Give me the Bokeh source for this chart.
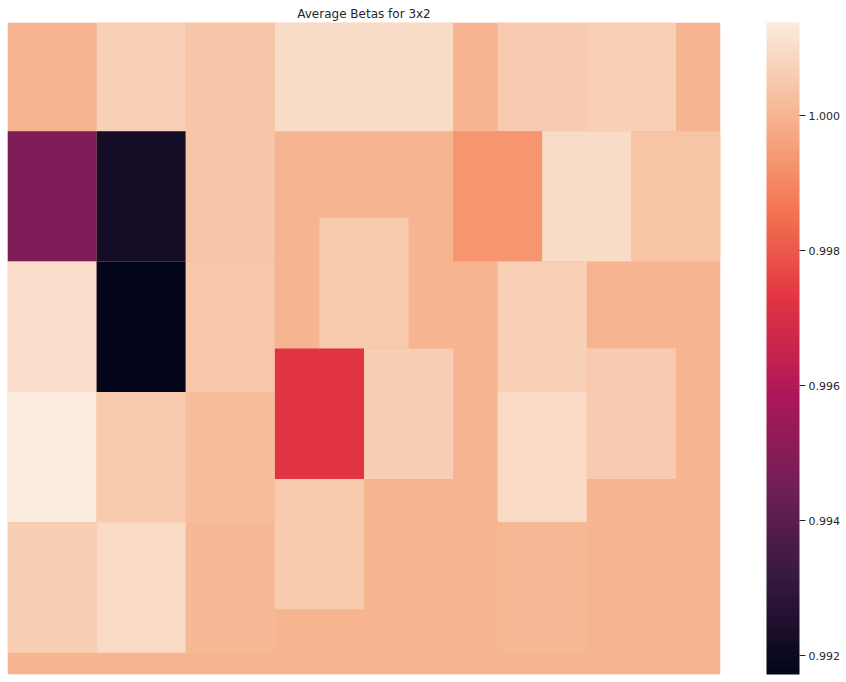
import numpy as np
from bokeh.plotting import figure
from bokeh.models import (LinearColorMapper, ColorBar, FixedTicker, PrintfTickFormatter,
                          Range1d, ColumnDataSource)
from bokeh.embed import file_html
from bokeh.resources import INLINE

# ---------------- data ----------------
title_text = "Average Betas for 3x2"
n_rows = 30          # half-row grid
n_cols = 16
background_beta = 1.0
beta_min = 0.99172
beta_max = 1.00138
colorbar_ticks = [0.992, 0.994, 0.996, 0.998, 1.000]

# 3x2 blocks: grid index ranges and average beta
block_row_start = [5, 11, 17, 23, 0, 5, 11, 17, 23, 0, 5, 11, 17, 23,
                   0, 0, 0, 0, 9, 5, 5, 5, 11, 17, 15, 15, 15, 21, 23]
block_row_end   = [11, 17, 23, 29, 5, 11, 17, 23, 29, 5, 11, 17, 23, 29,
                   5, 5, 5, 5, 15, 11, 11, 11, 17, 23, 21, 21, 21, 27, 29]
block_col_start = [0, 0, 0, 0, 2, 2, 2, 2, 2, 4, 4, 4, 4, 4,
                   6, 8, 11, 13, 7, 10, 12, 14, 11, 11, 6, 8, 13, 6, 11]
block_col_end   = [2, 2, 2, 2, 4, 4, 4, 4, 4, 6, 6, 6, 6, 6,
                   8, 10, 13, 15, 9, 12, 14, 16, 13, 13, 8, 10, 15, 8, 13]
block_beta      = [0.99482, 1.00103, 1.00138, 1.00063,
                   1.00068, 0.99224, 0.99172, 1.00053, 1.00095,
                   1.00043, 1.00043, 1.00044, 1.00022, 1.00012,
                   1.00097, 1.00100, 1.00058, 1.00068,
                   1.00053, 0.99931, 1.00097, 1.00038,
                   1.00068, 1.00095,
                   0.99725, 1.00063, 1.00055,
                   1.00053, 1.00006]

# rocket colormap anchors
rocket_pos = [0.0, 1/7, 2/7, 3/7, 4/7, 5/7, 6/7, 1.0]
rocket_hex = ["#03051a", "#35193e", "#701f57", "#ad1759",
              "#e13342", "#f37651", "#f6b48f", "#faebdd"]

# ---------------- build ----------------
def hex2rgb(h):
    return [int(h[i:i + 2], 16) for i in (1, 3, 5)]

anchor_rgb = np.array([hex2rgb(h) for h in rocket_hex], dtype=float)
t = np.linspace(0, 1, 256)
pal = []
for tt in t:
    rgb = [np.interp(tt, rocket_pos, anchor_rgb[:, k]) for k in range(3)]
    pal.append("#%02x%02x%02x" % tuple(int(round(v)) for v in rgb))

mapper = LinearColorMapper(palette=pal, low=beta_min, high=beta_max)

bg_src = ColumnDataSource(dict(left=[0], right=[n_cols], top=[0], bottom=[n_rows],
                               beta=[background_beta]))
blk_src = ColumnDataSource(dict(left=block_col_start, right=block_col_end,
                                top=block_row_start, bottom=block_row_end,
                                beta=block_beta))

p = figure(frame_width=713, frame_height=652,
           x_range=Range1d(0, n_cols), y_range=Range1d(n_rows, 0),
           x_axis_location=None, y_axis_location=None,
           toolbar_location=None, output_backend="svg",
           min_border_left=7, min_border_bottom=7, min_border_top=22,
           min_border_right=0, title=title_text)
p.outline_line_color = None
p.grid.visible = False
p.background_fill_color = "white"
p.border_fill_color = "white"
p.title.align = "center"
p.title.text_font = "DejaVu Sans"
p.title.text_font_size = "12px"
p.title.text_font_style = "normal"
p.title.text_color = "#262626"
p.title.standoff = 3

for s in (bg_src, blk_src):
    p.quad(left="left", right="right", top="top", bottom="bottom", source=s,
           fill_color={"field": "beta", "transform": mapper},
           line_color=None)

cb = ColorBar(color_mapper=mapper, width=33, height=652,
              ticker=FixedTicker(ticks=colorbar_ticks),
              formatter=PrintfTickFormatter(format="%.3f"),
              major_tick_in=0, major_tick_out=6,
              major_tick_line_color="#262626",
              minor_tick_line_color=None,
              major_label_text_font="DejaVu Sans",
              major_label_text_font_size="11px",
              major_label_text_color="#262626",
              label_standoff=3,
              bar_line_color=None, border_line_color=None,
              background_fill_color=None,
              padding=0, margin=0, location=(46, 0))
p.add_layout(cb, "right")

open("out.html", "w").write(file_html(p, INLINE))
